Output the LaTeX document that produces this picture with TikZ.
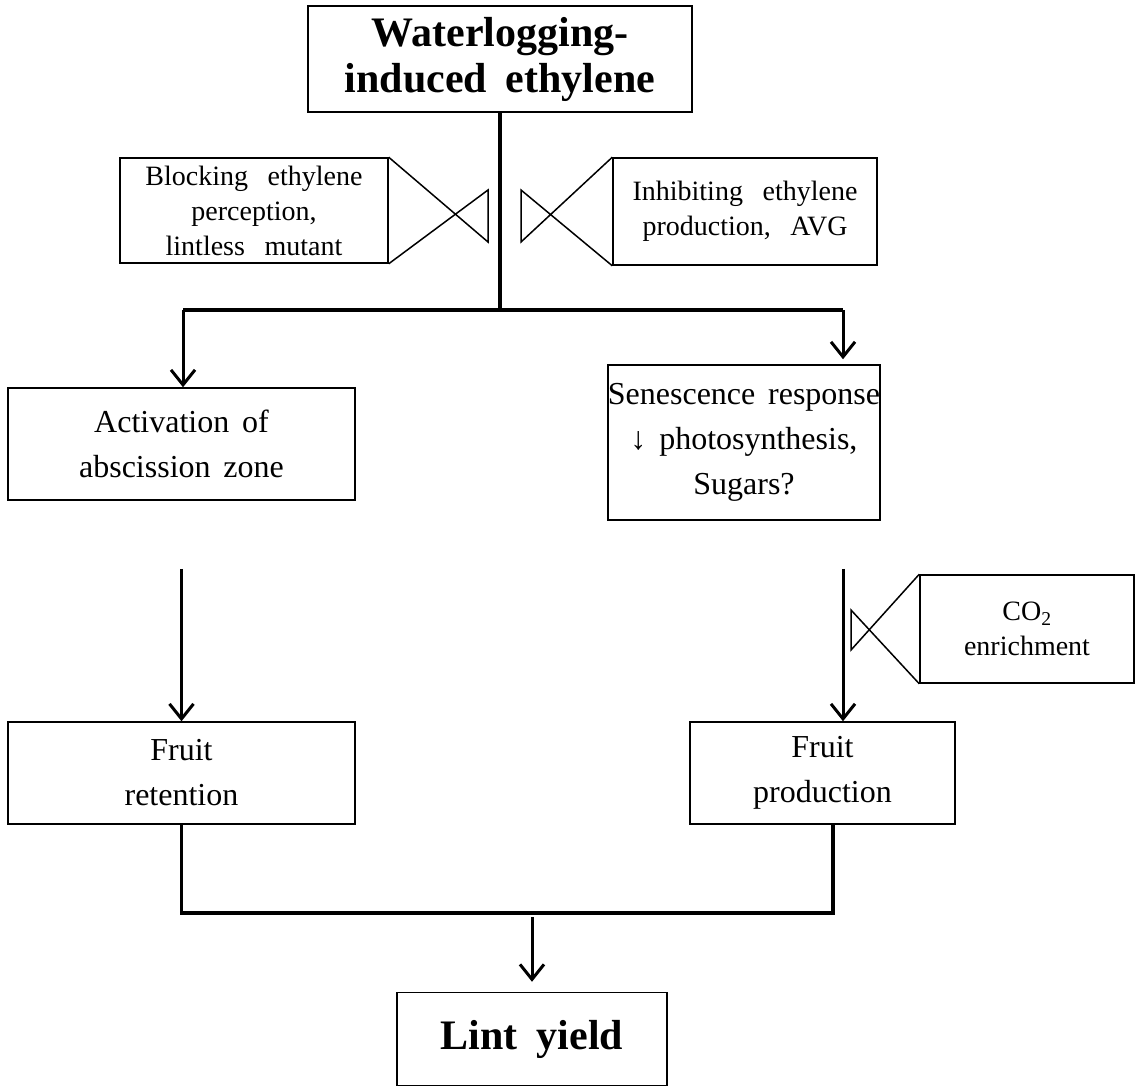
\documentclass[tikz,border=0pt]{standalone}
\usepackage{fontspec}
\setmainfont{Liberation Serif}
\usetikzlibrary{calc}
\usetikzlibrary{arrows.meta}

\begin{document}
\begin{tikzpicture}[x=1pt,y=-1pt,
  box/.style={draw,line width=1.5pt,align=center,inner sep=0pt},
  bigtxt/.style={font={\fontsize{32}{45}\selectfont\spaceskip=0.4em\relax}},
  smalltxt/.style={font={\fontsize{28}{35}\selectfont\spaceskip=0.7em\relax}},
  boldtxt/.style={font={\fontsize{42}{46}\selectfont\bfseries\spaceskip=0.45em\relax}},
  flow/.style={line width=3.5pt},
  arr/.style={line width=3pt,-{Straight Barb[length=15pt,width=24pt]}},
  valve/.style={line width=1.5pt}]
\useasboundingbox (0,0) rectangle (1135,1086);
% boxes
\node[box,boldtxt,minimum width=384pt,minimum height=106pt] (eth) at (500,59) {Waterlogging-\\induced ethylene};
\node[box,smalltxt,minimum width=268pt,minimum height=105pt] (blk) at (254,210.5) {Blocking ethylene\\perception,\\lintless mutant};
\node[box,smalltxt,minimum width=264pt,minimum height=107pt] (inh) at (745,211.5) {Inhibiting ethylene\\production, AVG};
\node[box,bigtxt,minimum width=347pt,minimum height=112pt] (abs) at (181.5,444) {Activation of\\abscission zone};
\node[box,bigtxt,minimum width=272pt,minimum height=155pt] (sen) at (744,442.5) {Senescence response\\↓ photosynthesis,\\Sugars?};
\node[box,smalltxt,minimum width=214pt,minimum height=108pt] (co2) at (1027,629) {CO\textsubscript{2}\\enrichment};
\node[box,bigtxt,minimum width=347pt,minimum height=102pt] (ret) at (181.5,773) {Fruit\\retention};
\node[box,bigtxt,minimum width=265pt,minimum height=102pt] (pro) at (822.5,773) {Fruit\\production};
\node[box,boldtxt,minimum width=270pt,minimum height=93pt] (lint) at (532,1039) {Lint yield};
% ethylene splits into two branches
\coordinate (fork) at (500,310);
\coordinate (fl) at (183,310);
\coordinate (fr) at (843,310);
\draw[flow] (eth.south) -- (fork);
\draw[flow] (fl) -- (fr);
\draw[arr] (fl) -- (fl |- abs.north);
\draw[arr,shorten >=5pt] (fr) -- (fr |- sen.north);
\draw[arr,shorten <=68pt] (abs.south) -- (ret.north);
\draw[arr,shorten <=48pt] (fr |- sen.south) -- (fr |- pro.north);
% branches join again
\coordinate (join) at (532,913);
\draw[flow] (ret.south) |- (join) -| ($(pro.south)+(10.5,0)$);
\draw[arr,shorten <=4pt,shorten >=10pt] (join) -- (lint.north);
% inhibitor valves
\draw[valve] (blk.north east) -- (488,242) -- (488,190) -- (blk.south east);
\draw[valve] (inh.north west) -- (521,242) -- (521,190) -- (inh.south west);
\draw[valve] (co2.north west) -- (851,650) -- (851,610) -- (co2.south west);
\end{tikzpicture}
\end{document}
